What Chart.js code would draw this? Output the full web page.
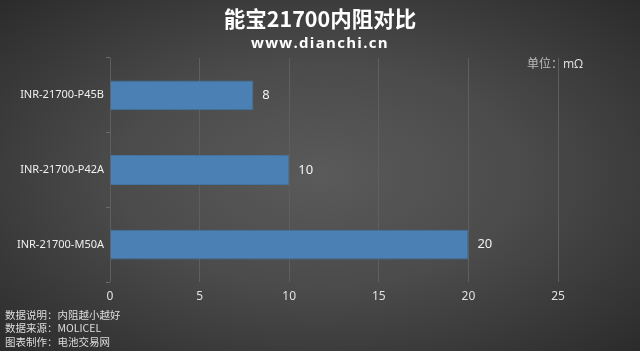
<!DOCTYPE html>
<html>
<head>
<meta charset="utf-8">
<script src="https://cdn.jsdelivr.net/npm/chart.js@4"></script>
<style>
  html, body { margin: 0; padding: 0; }
  body {
    width: 640px; height: 351px; overflow: hidden; position: relative;
    background: radial-gradient(ellipse at 50% 50%, #5a5a5a 0%, #4b4b4b 45%, #2b2b2b 100%);
    font-family: 'Noto Sans', 'Noto Sans CJK SC', sans-serif;
  }
  #wrap { position: absolute; left: 0; top: 0; width: 640px; height: 351px; }
  .title { position: absolute; left: 0; width: 640px; text-align: center; color: #fff; font-weight: bold; }
  #t1 { top: 4px; font-size: 21.5px; font-family: 'Noto Sans CJK SC', sans-serif; line-height: 27px; }
  #t2 { top: 32px; font-size: 15px; letter-spacing: 1.3px; line-height: 20px; font-family: 'Open Sans', 'Noto Sans', sans-serif; }
  #unit { position: absolute; left: 527px; top: 54px; font-size: 12px; color: #bbb; font-family: 'Noto Sans CJK SC', sans-serif; }
  #unit span { color: #ddd; font-family: 'Noto Sans', sans-serif; }
  .foot { position: absolute; left: 5px; font-size: 10.5px; line-height: 13px; height: 13px; color: #ddd; font-family: 'Noto Sans CJK SC', sans-serif; white-space: nowrap; }
</style>
</head>
<body>
<div id="wrap"><canvas id="chart" width="640" height="351"></canvas></div>
<div class="title" id="t1">能宝21700内阻对比</div>
<div class="title" id="t2">www.dianchi.cn</div>
<div id="unit">单位：<span>mΩ</span></div>
<div class="foot" style="top:308px">数据说明：内阻越小越好</div>
<div class="foot" style="top:321px">数据来源：MOLICEL</div>
<div class="foot" style="top:335px">图表制作：电池交易网</div>
<script>
const categories = ['INR-21700-P45B', 'INR-21700-P42A', 'INR-21700-M50A'];
const resistance = [8, 10, 20];
const xTicks = [0, 5, 10, 15, 20, 25];

// draws the value to the right of each bar
const valueLabels = {
  id: 'valueLabels',
  afterDatasetsDraw(chart) {
    const ctx = chart.ctx;
    const meta = chart.getDatasetMeta(0);
    ctx.save();
    ctx.fillStyle = '#f2f2f2';
    ctx.font = '13px "Noto Sans", sans-serif';
    ctx.textBaseline = 'middle';
    meta.data.forEach((bar, i) => {
      ctx.fillText(String(resistance[i]), bar.x + 9, bar.y);
    });
    ctx.restore();
  }
};

new Chart(document.getElementById('chart'), {
  type: 'bar',
  data: {
    labels: categories,
    datasets: [{
      data: resistance,
      backgroundColor: '#4b80b4',
      borderColor: '#44739f',
      borderWidth: 1,
      barPercentage: 0.5,
      categoryPercentage: 0.8
    }]
  },
  options: {
    indexAxis: 'y',
    responsive: false,
    animation: false,
    layout: { padding: { top: 58, right: 82, bottom: 43, left: 0 } },
    plugins: { legend: { display: false }, tooltip: { enabled: false } },
    scales: {
      x: {
        min: 0, max: 25,
        afterBuildTicks(scale) { scale.ticks = xTicks.map(v => ({ value: v })); },
        afterFit(scale) { scale.height = 26; },
        grid: { color: '#5e5e5e', drawTicks: false },
        border: { display: false },
        ticks: { color: '#e0e0e0', font: { size: 12, family: 'Noto Sans' }, padding: 7 }
      },
      y: {
        afterFit(scale) { scale.width = 110; },
        grid: { drawOnChartArea: false, color: '#6a6a6a', tickLength: 4 },
        border: { display: false },
        ticks: { color: '#f0f0f0', font: { size: 11, family: 'Noto Sans' }, padding: 2 }
      }
    }
  },
  plugins: [valueLabels]
});
</script>
</body>
</html>
